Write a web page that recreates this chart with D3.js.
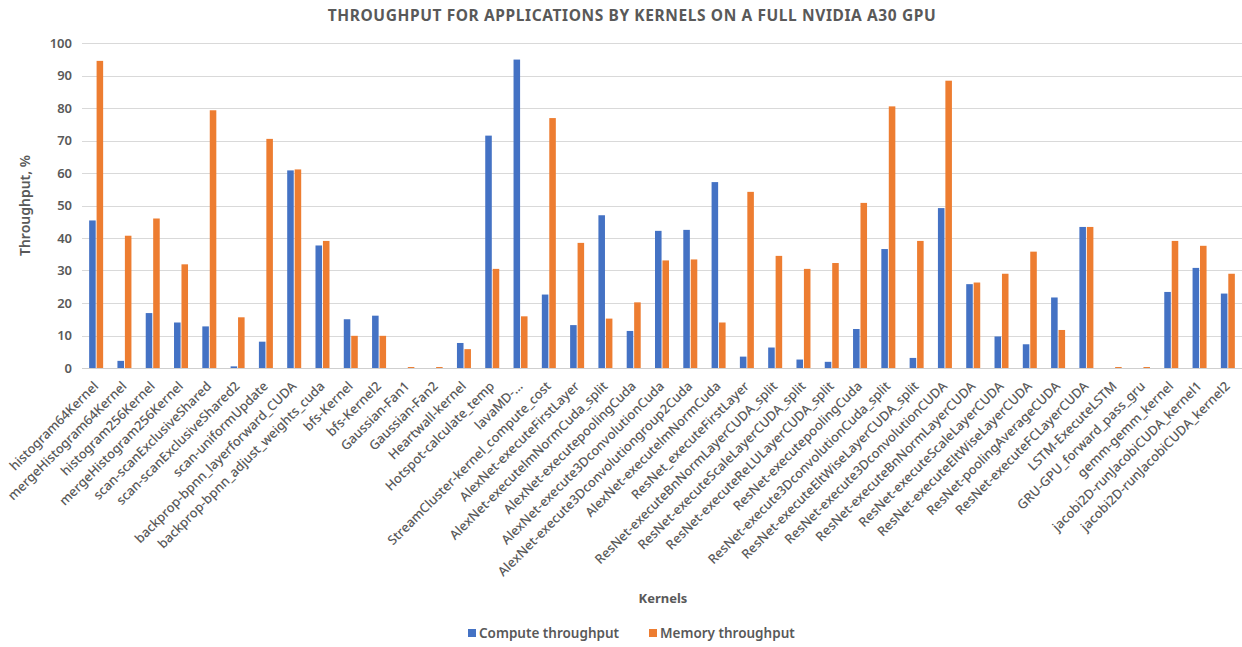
<!DOCTYPE html>
<html>
<head>
<meta charset="utf-8">
<script src="https://cdn.jsdelivr.net/npm/d3@7"></script>
<style>
  html, body { margin: 0; padding: 0; background: #ffffff; }
  svg { display: block; font-family: "Noto Sans", "Open Sans", sans-serif; }
</style>
</head>
<body>
<svg id="chart" width="1242" height="647"></svg>
<script>
// Kernel names (x categories)
const kernels = [
  "histogram64Kernel", "mergeHistogram64Kernel", "histogram256Kernel", "mergeHistogram256Kernel",
  "scan-scanExclusiveShared", "scan-scanExclusiveShared2", "scan-uniformUpdate",
  "backprop-bpnn_layerforward_CUDA", "backprop-bpnn_adjust_weights_cuda",
  "bfs-Kernel", "bfs-Kernel2", "Gaussian-Fan1", "Gaussian-Fan2", "Heartwall-kernel",
  "Hotspot-calculate_temp", "lavaMD-...", "StreamCluster-kernel_compute_cost",
  "AlexNet-executeFirstLayer", "AlexNet-executelmNormCuda_split", "AlexNet-executepoolingCuda",
  "AlexNet-execute3DconvolutionCuda", "AlexNet-execute3Dconvolutiongroup2Cuda",
  "AlexNet-executelmNormCuda", "ResNet_executeFirstLayer",
  "ResNet-executeBnNormLayerCUDA_split", "ResNet-executeScaleLayerCUDA_split",
  "ResNet-executeReLULayerCUDA_split", "ResNet-executepoolingCuda",
  "ResNet-execute3DconvolutionCuda_split", "ResNet-executeEltWiseLayerCUDA_split",
  "ResNet-execute3DconvolutionCUDA", "ResNet-executeBnNormLayerCUDA",
  "ResNet-executeScaleLayerCUDA", "ResNet-executeEltWiseLayerCUDA",
  "ResNet-poolingAverageCUDA", "ResNet-executeFCLayerCUDA", "LSTM-ExecuteLSTM",
  "GRU-GPU_forward_pass_gru", "gemm-gemm_kernel",
  "jacobi2D-runJacobiCUDA_kernel1", "jacobi2D-runJacobiCUDA_kernel2"
];

// Compute throughput, %
const computeThroughput = [
  45.4, 2.2, 16.9, 14.0, 12.8, 0.5, 8.1, 60.8, 37.7, 15.0, 16.1, 0, 0, 7.7,
  71.5, 94.9, 22.6, 13.2, 47.0, 11.4, 42.2, 42.5, 57.2, 3.5, 6.3, 2.6,
  1.9, 12.0, 36.6, 3.1, 49.2, 25.8, 9.7, 7.3, 21.7, 43.4, 0, 0, 23.4, 30.8, 22.9
];

// Memory throughput, %
const memoryThroughput = [
  94.5, 40.7, 46.0, 31.9, 79.3, 15.6, 70.5, 61.1, 39.1, 9.9, 9.9, 0.3, 0.3, 5.8,
  30.5, 15.9, 76.9, 38.5, 15.2, 20.2, 33.1, 33.4, 14.0, 54.2, 34.5, 30.5,
  32.3, 50.8, 80.5, 39.1, 88.4, 26.3, 29.0, 35.8, 11.7, 43.4, 0.3, 0.3, 39.1, 37.6, 29.0
];

const seriesNames = ["Compute throughput", "Memory throughput"];
const seriesColors = ["#4472C4", "#ED7D31"];
const yTicks = [0, 10, 20, 30, 40, 50, 60, 70, 80, 90, 100];

const svg = d3.select("#chart");
const margin = { left: 82, right: 0, top: 43, bottom: 279 };
const W = 1242, H = 647;
const plotBottom = H - margin.bottom;   // y of the 0 baseline

const x = d3.scaleBand().domain(kernels).range([margin.left, W - margin.right]).paddingInner(0).paddingOuter(0);
const xs = d3.scaleBand().domain([0, 1]).range([0, 14]).paddingInner(0.12);
const y = d3.scaleLinear().domain([0, 100]).range([plotBottom, margin.top]);

const textColor = "#595959";

// Horizontal gridlines
svg.append("g")
  .selectAll("line")
  .data(yTicks)
  .join("line")
  .attr("x1", margin.left)
  .attr("x2", W - margin.right)
  .attr("y1", d => Math.round(y(d)) + 0.5)
  .attr("y2", d => Math.round(y(d)) + 0.5)
  .attr("stroke", d => d === 0 ? "#cfcfcf" : "#d9d9d9")
  .attr("stroke-width", 1);

// Y axis labels
const yAxis = d3.axisLeft(y).tickValues(yTicks).tickSize(0).tickPadding(0);
const yg = svg.append("g").attr("transform", `translate(${margin.left - 10},0)`).call(yAxis);
yg.select(".domain").remove();
yg.selectAll("text")
  .attr("fill", textColor)
  .attr("font-size", 13)
  .attr("font-weight", 600)
  .attr("font-family", "'Noto Sans', sans-serif");

// Bars
const rows = kernels.map((k, i) => ({ k, vals: [computeThroughput[i], memoryThroughput[i]] }));
const groupOffset = (x.bandwidth() - 14) / 2;
const groups = svg.append("g")
  .selectAll("g")
  .data(rows)
  .join("g")
  .attr("transform", d => `translate(${x(d.k) + groupOffset},0)`);

groups.selectAll("rect")
  .data(d => d.vals.map((v, s) => ({ v, s })))
  .join("rect")
  .attr("x", d => xs(d.s))
  .attr("width", xs.bandwidth())
  .attr("y", d => y(d.v))
  .attr("height", d => plotBottom - y(d.v))
  .attr("fill", d => seriesColors[d.s]);

// X axis labels, rotated 45 degrees
const xAxis = d3.axisBottom(x).tickSize(0).tickPadding(0);
const xg = svg.append("g").attr("transform", `translate(0,${plotBottom})`).call(xAxis);
xg.select(".domain").remove();
xg.selectAll("text")
  .attr("fill", textColor)
  .attr("font-size", 13)
  .attr("font-weight", 500)
  .attr("font-family", "'Noto Sans', sans-serif")
  .attr("text-anchor", "end")
  .attr("dy", null)
  .attr("y", 0)
  .attr("transform", "translate(3,19) rotate(-45)");

// Title
svg.append("text")
  .attr("x", 632)
  .attr("y", 21)
  .attr("text-anchor", "middle")
  .attr("fill", textColor)
  .attr("font-size", 15.5)
  .attr("font-weight", 700)
  .attr("letter-spacing", 0.6)
  .text("THROUGHPUT FOR APPLICATIONS BY KERNELS ON A FULL NVIDIA A30 GPU");

// Y axis title
svg.append("text")
  .attr("transform", `translate(30,${(margin.top + plotBottom) / 2}) rotate(-90)`)
  .attr("text-anchor", "middle")
  .attr("fill", textColor)
  .attr("font-size", 14)
  .attr("font-weight", 600)
  .text("Throughput, %");

// X axis title
svg.append("text")
  .attr("x", 663)
  .attr("y", 603)
  .attr("text-anchor", "middle")
  .attr("fill", textColor)
  .attr("font-size", 13)
  .attr("font-weight", 700)
  .text("Kernels");

// Legend
const legendX = [468, 649];
const legend = svg.append("g")
  .selectAll("g")
  .data(seriesNames)
  .join("g")
  .attr("transform", (d, i) => `translate(${legendX[i]},638)`);
legend.append("rect")
  .attr("x", 0).attr("y", -9).attr("width", 8).attr("height", 8)
  .attr("fill", (d, i) => seriesColors[i]);
legend.append("text")
  .attr("x", 11).attr("y", 0)
  .attr("fill", textColor)
  .attr("font-size", 13.5)
  .attr("font-weight", 600)
  .text(d => d);
</script>
</body>
</html>
